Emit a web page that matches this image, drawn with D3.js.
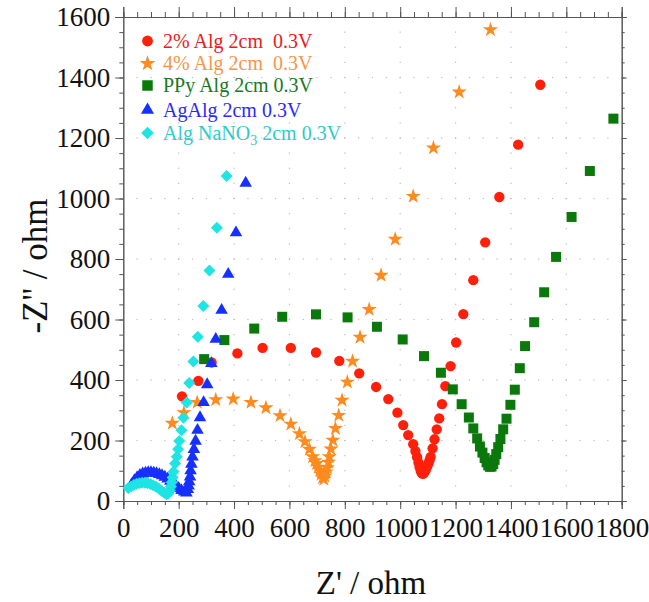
<!DOCTYPE html>
<html><head><meta charset="utf-8">
<script src="https://cdn.jsdelivr.net/npm/d3@7"></script>
<style>body{margin:0;background:#fff}svg{display:block}text{font-family:"Liberation Serif","Times New Roman",serif}</style>
</head><body><svg id="c" width="649" height="602"></svg>
<script>
// ---- data ----
const xTicks = [0,200,400,600,800,1000,1200,1400,1600,1800];
const yTicks = [0,200,400,600,800,1000,1200,1400,1600];
const seriesNames = ["2% Alg 2cm  0.3V","4% Alg 2cm  0.3V","PPy Alg 2cm 0.3V","AgAlg 2cm 0.3V","Alg NaNO3 2cm 0.3V"];

const alg2X = [212,271,319,412,503,605,696,780,852,913,957,990,1011,1029,1047,1055,1061,1066,1070,1074,1078,1082,1087,1092,1097,1102,1106,1110,1117,1124,1132,1141,1151,1163,1182,1202,1228,1264,1307,1358,1426,1506];
const alg2Y = [346,397,458,488,506,506,491,463,422,377,337,292,251,218,188,165,145,127,112,100,92,90,94,102,113,124,135,146,174,204,237,273,320,380,446,524,618,730,855,1005,1178,1376];

const alg4X = [177,219,267,334,397,461,515,566,605,636,656,672,684,692,698,704,710,715,720,724,728,733,737,741,744,750,757,766,778,790,809,828,855,888,931,982,1047,1120,1213,1326];
const alg4Y = [257,292,326,335,337,326,308,282,254,222,196,171,146,133,124,112,101,88,77,72,82,96,110,128,146,172,201,240,283,333,393,462,541,633,746,865,1007,1167,1352,1558];

const ppyX = [292,365,473,574,696,810,916,1009,1086,1147,1190,1222,1248,1264,1278,1288,1297,1305,1312,1318,1324,1330,1336,1341,1347,1354,1362,1372,1384,1398,1414,1432,1451,1484,1520,1563,1619,1685,1770];
const ppyY = [469,532,570,609,617,607,576,534,479,424,369,320,276,240,207,180,160,142,128,118,113,114,122,136,155,178,205,237,272,318,368,439,512,591,690,807,939,1091,1264];

const agX = [30,40,50,60,70,80,90,100,110,120,130,140,150,160,170,180,190,200,210,220,228,233,236,238,241,243,246,250,255,261,268,277,290,303,318,334,355,379,407,442];
const agY = [55,68,78,85,90,93,94,94,93,91,88,84,79,73,66,58,50,42,35,30,27,38,50,64,80,100,122,146,171,198,234,276,326,385,455,535,631,750,887,1051];

const naX = [18,28,38,48,58,68,78,88,98,108,118,128,138,148,156,163,168,172,175,178,181,187,193,198,202,210,217,229,238,253,269,289,311,338,373];
const naY = [43,48,53,57,59,60,60,59,56,52,47,41,34,27,22,25,35,48,62,78,97,124,146,171,198,234,275,326,390,461,543,645,762,903,1074];

// ---- styles ----
const markColors = ["#ff200c","#ff8a1e","#0a780a","#1530ff","#1ee4e4"];
const textColors = ["#e8201a","#f7964a","#1a7a1a","#2a2aff","#2ccccc"];
const symbols = [d3.symbolCircle, d3.symbolStar, d3.symbolSquare, d3.symbolTriangle, d3.symbolSquare];
const sizes = [84, 72, 100, 68, 72];
const rot = [0,0,0,0,45];
const FONT = "'Liberation Serif','Times New Roman',serif";

const svg = d3.select("#c");
const x = d3.scaleLinear().domain([0,1800]).range([123.3,621.7]);
const y = d3.scaleLinear().domain([0,1600]).range([501,17]);

// grid dots
const minorX = d3.range(0,1801,50), minorY = d3.range(0,1601,50);
const g = svg.append("g").attr("fill","#bdbdbd");
xTicks.slice(1,-1).forEach(tx => minorY.slice(1,-1).forEach(ty => g.append("rect").attr("x",x(tx)-0.6).attr("y",y(ty)-0.6).attr("width",1.2).attr("height",1.2)));
yTicks.slice(1,-1).forEach(ty => minorX.slice(1,-1).forEach(tx => g.append("rect").attr("x",x(tx)-0.6).attr("y",y(ty)-0.6).attr("width",1.2).attr("height",1.2)));

function styleAxis(sel){ sel.attr("font-family",FONT).attr("font-size",27); sel.select(".domain").attr("stroke","#555"); sel.selectAll(".tick line").attr("stroke","#555"); sel.selectAll("text").attr("fill","#111").style("font-family",FONT).style("font-size","27px"); }
// bottom
svg.append("g").attr("transform",`translate(0,${y(0)})`).call(d3.axisBottom(x).tickValues(minorX).tickFormat("").tickSize(4)).call(styleAxis);
svg.append("g").attr("transform",`translate(0,${y(0)})`).call(d3.axisBottom(x).tickValues(xTicks).tickFormat(d3.format("d")).tickSize(8).tickPadding(9)).call(styleAxis);
// top
svg.append("g").attr("transform",`translate(0,${y(1600)})`).call(d3.axisTop(x).tickValues(minorX).tickFormat("").tickSize(5)).call(styleAxis);
svg.append("g").attr("transform",`translate(0,${y(1600)})`).call(d3.axisTop(x).tickValues(xTicks).tickFormat("").tickSize(10)).call(styleAxis);
// left
svg.append("g").attr("transform",`translate(${x(0)},0)`).call(d3.axisLeft(y).tickValues(minorY).tickFormat("").tickSize(4)).call(styleAxis);
svg.append("g").attr("transform",`translate(${x(0)},0)`).call(d3.axisLeft(y).tickValues(yTicks).tickFormat(d3.format("d")).tickSize(8).tickPadding(5)).call(styleAxis);
// right
svg.append("g").attr("transform",`translate(${x(1800)},0)`).call(d3.axisRight(y).tickValues(minorY).tickFormat("").tickSize(3)).call(styleAxis);
svg.append("g").attr("transform",`translate(${x(1800)},0)`).call(d3.axisRight(y).tickValues(yTicks).tickFormat("").tickSize(5)).call(styleAxis);

// axis titles
svg.append("text").attr("x",371).attr("y",594).attr("text-anchor","middle").style("font-size","33px").attr("fill","#111").text("Z' / ohm");
svg.append("text").attr("transform","translate(47,266) rotate(-90)").attr("text-anchor","middle").style("font-size","35px").attr("fill","#111").text("-Z'' / ohm");

// series
const data = [[alg2X,alg2Y],[alg4X,alg4Y],[ppyX,ppyY],[agX,agY],[naX,naY]];
data.forEach(([xs,ys],i) => {
  const sym = d3.symbol().type(symbols[i]).size(sizes[i]);
  svg.append("g").selectAll("path").data(xs.map((v,k)=>[v,ys[k]])).join("path")
    .attr("d",sym).attr("fill",markColors[i])
    .attr("transform",d=>`translate(${x(d[0])},${y(d[1])}) rotate(${rot[i]})`);
});

// legend
const legY = [41,63.5,85.5,110,133];
seriesNames.forEach((nm,i) => {
  const sym = d3.symbol().type(symbols[i]).size(sizes[i]*1.1);
  svg.append("path").attr("d",sym).attr("fill",markColors[i]).attr("transform",`translate(147.5,${legY[i]}) rotate(${rot[i]})`);
  const t = svg.append("text").attr("x",163).attr("y",legY[i]+6.5).attr("fill",textColors[i]).style("font-size","20px").style("white-space","pre");
  if (nm.includes("NaNO3")) {
    t.append("tspan").text("Alg NaNO");
    t.append("tspan").attr("dy",5).style("font-size","14px").text("3");
    t.append("tspan").attr("dy",-5).text(" 2cm 0.3V");
  } else t.text(nm);
});
</script></body></html>
